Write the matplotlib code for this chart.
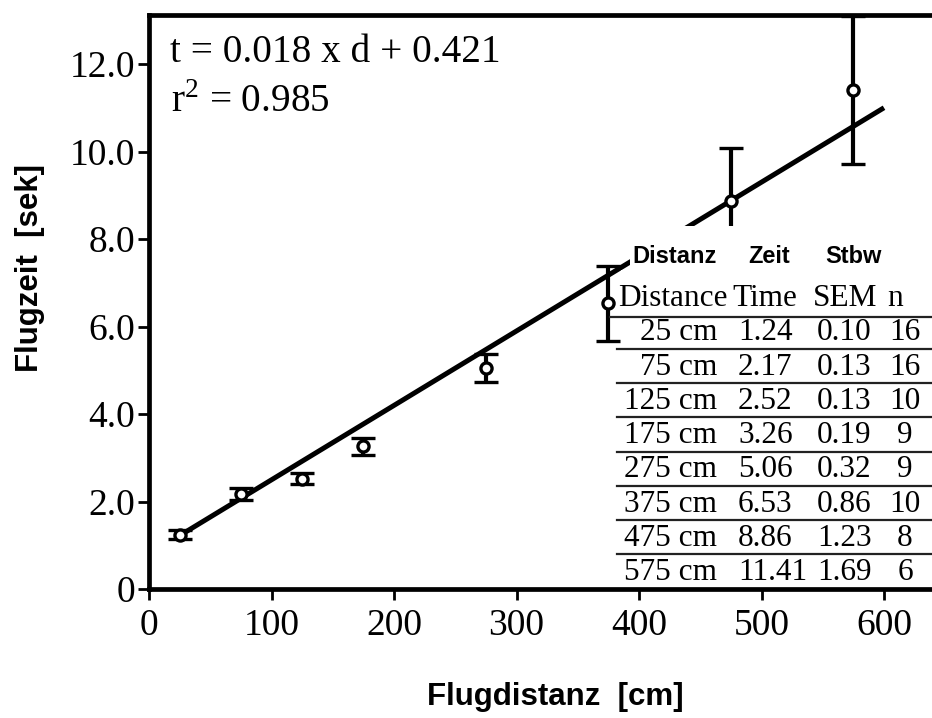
import matplotlib
matplotlib.use('Agg')
import matplotlib.pyplot as plt
from matplotlib.patches import Rectangle
from matplotlib.lines import Line2D

# ---------------- data ----------------
distance_cm = [25, 75, 125, 175, 275, 375, 475, 575]
time_s = [1.24, 2.17, 2.52, 3.26, 5.06, 6.53, 8.86, 11.41]
sem_s = [0.10, 0.13, 0.13, 0.19, 0.32, 0.86, 1.23, 1.69]
n_flights = [16, 16, 10, 9, 9, 10, 8, 6]
fit_d = [25, 600]
fit_t = [1.22, 11.0]
x_ticks = [0, 100, 200, 300, 400, 500, 600]
y_ticks = [0, 2, 4, 6, 8, 10, 12]
y_tick_labels = ['0', '2.0', '4.0', '6.0', '8.0', '10.0', '12.0']
header_de = ['Distanz', 'Zeit', 'Stbw']
header_en = ['Distance', 'Time', 'SEM', 'n']
equation = 't = 0.018 x d + 0.421'
r2_text = r'r$^{\mathregular{2}}$ = 0.985'
x_label = 'Flugdistanz  [cm]'
y_label = 'Flugzeit  [sek]'

SERIF = 'Liberation Serif'
SANS = 'Liberation Sans'
plt.rcParams['font.family'] = [SERIF, 'DejaVu Serif']
plt.rcParams['mathtext.fontset'] = 'custom'
plt.rcParams['mathtext.rm'] = SERIF

W, H = 932, 718
def fx(x):
    return x / W
def fy(y):
    return 1 - y / H

fig = plt.figure(figsize=(W / 100, H / 100), dpi=100)
fig.patch.set_facecolor('white')

px_per_x = 1.225
px_per_y = 43.75
x_max = 660
ax = fig.add_axes([fx(149), fy(589), x_max * px_per_x / W, (589 - 15) / H])
ax.set_xlim(0, x_max)
ax.set_ylim(0, (589 - 15) / px_per_y)
ax.set_facecolor('white')

for s in ['left', 'bottom', 'top']:
    ax.spines[s].set_linewidth(3.4)
    ax.spines[s].set_color('black')
ax.spines['right'].set_visible(False)

ax.set_xticks(x_ticks)
ax.set_xticklabels([str(v) for v in x_ticks])
ax.set_yticks(y_ticks)
ax.set_yticklabels(y_tick_labels)
ax.tick_params(axis='both', direction='out', length=8, width=2, colors='black', labelsize=27)
ax.tick_params(axis='y', pad=2)
ax.tick_params(axis='x', pad=6)
for lab in ax.get_xticklabels() + ax.get_yticklabels():
    lab.set_family(SERIF)

# regression line
ax.plot(fit_d, fit_t, color='black', lw=3.6, solid_capstyle='butt', zorder=2)

# error bars with open circles
ax.errorbar(distance_cm, time_s, yerr=sem_s, fmt='o', color='black',
            ecolor='black', elinewidth=3.0, capsize=8.4, capthick=3.0,
            markersize=8, markerfacecolor='white', markeredgecolor='black',
            markeredgewidth=2.4, zorder=3)

# equation text
fig.text(fx(170), fy(52), equation, fontsize=28.3, ha='left', va='center', family=SERIF)
fig.text(fx(171), fy(102), r2_text, fontsize=28.3, ha='left', va='center', family=SERIF)

# white boxes covering part of the plot (table inset)
fig.patches.append(Rectangle((fx(630), fy(270)), 1 - fx(630) + 0.01, (270 - 226) / H,
                             transform=fig.transFigure, facecolor='white',
                             edgecolor='none', zorder=1))
fig.patches.append(Rectangle((fx(621), fy(585)), 1 - fx(621) + 0.01, (585 - 270) / H,
                             transform=fig.transFigure, facecolor='white',
                             edgecolor='none', zorder=1))

# German header
for label, xl in zip(header_de, [632, 748, 825]):
    fig.text(fx(xl), fy(257), label, fontsize=17, fontweight='bold', family=SANS,
             ha='left', va='center', zorder=3)

# English header
tfs = 22.5
for label, xl in zip(header_en, [618, 732, 813, 887]):
    fig.text(fx(xl), fy(299), label, fontsize=tfs, family=SERIF, ha='left',
             va='center', zorder=3)
fig.lines.append(Line2D([fx(610), 1.0], [fy(317), fy(317)], transform=fig.transFigure,
                        color='#222222', lw=1.6, zorder=2))

row_y0 = 333
row_step = 34.2
for i, (d, t, s, n) in enumerate(zip(distance_cm, time_s, sem_s, n_flights)):
    yy = row_y0 + i * row_step
    fig.text(fx(717), fy(yy), f'{d} cm', fontsize=tfs, family=SERIF, ha='right', va='center', zorder=3)
    fig.text(fx(738), fy(yy), f'{t:.2f}', fontsize=tfs, family=SERIF, ha='left', va='center', zorder=3)
    fig.text(fx(817), fy(yy), f'{s:.2f}', fontsize=tfs, family=SERIF, ha='left', va='center', zorder=3)
    fig.text(fx(905), fy(yy), f'{n}', fontsize=tfs, family=SERIF, ha='center', va='center', zorder=3)
    if i < len(distance_cm) - 1:
        fig.lines.append(Line2D([fx(617), 1.0], [fy(yy + 16), fy(yy + 16)],
                                transform=fig.transFigure, color='#222222', lw=1.6, zorder=2))

# axis labels
fig.text(fx(555), fy(697), x_label, fontsize=22.5, fontweight='bold', family=SANS,
         ha='center', va='center')
fig.text(fx(30), fy(268), y_label, fontsize=22.5, fontweight='bold', family=SANS,
         ha='center', va='center', rotation=90)

fig.savefig('out.png', dpi=100, facecolor='white')
